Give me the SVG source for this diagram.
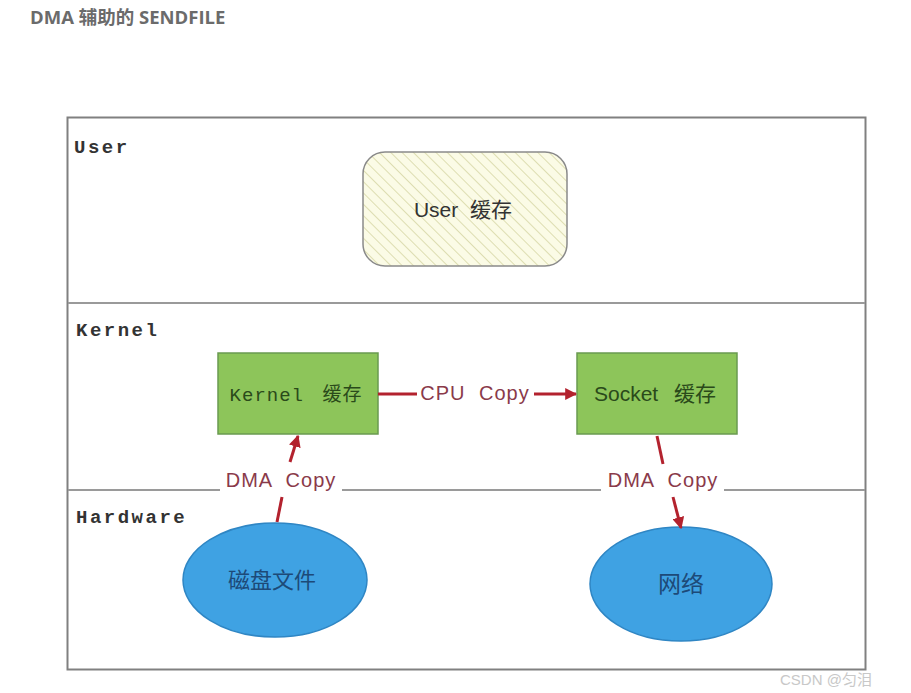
<svg xmlns="http://www.w3.org/2000/svg" width="911" height="693" viewBox="0 0 911 693">
<style>
.title{font-family:"Open Sans","Noto Sans CJK SC",sans-serif;font-weight:700;font-size:18.5px;fill:#6b6b6b}
.layer{font-family:"Liberation Mono","DejaVu Sans Mono",monospace;font-weight:700;font-size:19px;fill:#333;letter-spacing:2.5px}
.lbl{font-family:"Liberation Sans","Noto Sans CJK SC",sans-serif;font-size:21px;fill:#333}
.mono{font-family:"Liberation Mono","Noto Sans CJK SC",monospace;font-size:19px;fill:#2a4a1a;letter-spacing:1px}
.edge{font-family:"Liberation Sans",sans-serif;font-size:20px;fill:#8a3a4a;letter-spacing:1px;word-spacing:7px}
.sep{stroke:#9a9a9a;stroke-width:2;fill:none}
.arrow{stroke:#b3222e;stroke-width:3;fill:none}
.green{fill:#8dc55a;stroke:#6a9a50;stroke-width:1.5}
.blue{fill:#3fa2e3;stroke:#2f86c4;stroke-width:1.5}
</style>
<defs>
<pattern id="hatch" width="8" height="8" patternUnits="userSpaceOnUse" patternTransform="rotate(-45)">
<rect width="8" height="8" fill="#fbfbe6"/>
<line x1="0" y1="0" x2="0" y2="8" stroke="#d4d4a0" stroke-width="1.5"/>
</pattern>
<marker id="ah" viewBox="0 0 10 10" refX="9" refY="5" markerWidth="4" markerHeight="4" orient="auto" markerUnits="strokeWidth">
<path d="M0,0 L10,5 L0,10 z" fill="#b3222e"/>
</marker>
</defs>
<rect width="911" height="693" fill="#fff"/>
<text class="title" x="30" y="24">DMA 辅助的 SENDFILE</text>

<g id="frame">
<rect x="67.5" y="117.5" width="798" height="552" fill="#fff" stroke="#808080" stroke-width="2"/>
<line class="sep" x1="68" y1="303" x2="865" y2="303"/>
<polyline class="sep" points="68,490 220,490"/>
<polyline class="sep" points="342,490 601,490"/>
<polyline class="sep" points="724,490 865,490"/>
<text class="layer" x="74" y="153">User</text>
<text class="layer" x="76" y="336">Kernel</text>
<text class="layer" x="76" y="523">Hardware</text>
</g>

<g id="user-cache">
<rect x="363" y="152" width="204" height="114" rx="22" fill="url(#hatch)" stroke="#8a8a8a" stroke-width="1.5"/>
<text class="lbl" x="463" y="217" text-anchor="middle" word-spacing="6">User 缓存</text>
</g>

<g id="kernel-cache">
<rect class="green" x="218" y="353" width="160" height="81"/>
<text class="mono" x="296" y="401" text-anchor="middle" word-spacing="6">Kernel 缓存</text>
</g>

<g id="socket-cache">
<rect class="green" x="577" y="353" width="160" height="81"/>
<text class="lbl" x="655" y="401" text-anchor="middle" word-spacing="10" style="fill:#2a4a1a">Socket 缓存</text>
</g>

<g id="disk">
<ellipse class="blue" cx="275" cy="580" rx="92" ry="57"/>
<text class="lbl" x="272" y="588" text-anchor="middle" style="fill:#1d4a78;font-size:22px">磁盘文件</text>
</g>

<g id="network">
<ellipse class="blue" cx="681" cy="584" rx="91" ry="57"/>
<text class="lbl" x="681" y="592" text-anchor="middle" style="fill:#1d4a78;font-size:23px">网络</text>
</g>

<g id="connectors">
<line class="arrow" x1="378" y1="394" x2="417" y2="394"/>
<line class="arrow" x1="534" y1="394" x2="576" y2="394" marker-end="url(#ah)"/>
<text class="edge" x="475" y="400" text-anchor="middle">CPU Copy</text>

<line class="arrow" x1="277" y1="522" x2="282" y2="497"/>
<line class="arrow" x1="290" y1="462" x2="298" y2="436" marker-end="url(#ah)"/>
<text class="edge" x="281" y="487" text-anchor="middle">DMA Copy</text>

<line class="arrow" x1="657" y1="436" x2="663" y2="464"/>
<line class="arrow" x1="673" y1="497" x2="681" y2="528" marker-end="url(#ah)"/>
<text class="edge" x="663" y="487" text-anchor="middle">DMA Copy</text>
</g>

<text x="780" y="685" font-family="Liberation Sans,Noto Sans CJK SC,sans-serif" font-size="15" fill="#c8c8c8">CSDN @匀泪</text>
</svg>
